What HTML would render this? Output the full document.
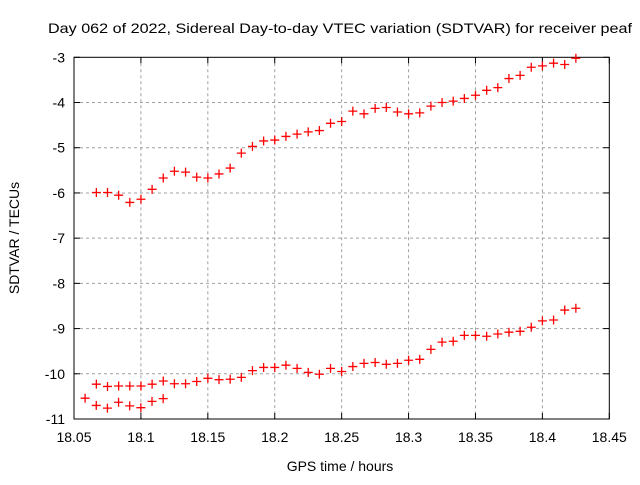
<!DOCTYPE html>
<html><head><meta charset="utf-8"><style>
body{margin:0;background:#fff;}
svg text{font-family:"Liberation Sans",sans-serif;font-size:14px;fill:#000;}
</style></head><body>
<svg id="chart" width="640" height="480" xmlns="http://www.w3.org/2000/svg">
<rect width="640" height="480" fill="#fff"/>
<text x="340" y="33" text-anchor="middle" textLength="584" lengthAdjust="spacingAndGlyphs">Day 062 of 2022, Sidereal Day-to-day VTEC variation (SDTVAR) for receiver peaf</text>
<text x="340" y="471" text-anchor="middle">GPS time / hours</text>
<text transform="translate(19,238) rotate(-90)" text-anchor="middle">SDTVAR / TECUs</text>
<g id="grid"></g><g id="axes"></g><g id="marks"></g>
</svg>
<script>
const xTicks=[18.05,18.1,18.15,18.2,18.25,18.3,18.35,18.4,18.45];
const xTickLabels=["18.05","18.1","18.15","18.2","18.25","18.3","18.35","18.4","18.45"];
const yTicks=[-3,-4,-5,-6,-7,-8,-9,-10,-11];
const yTickLabels=["-3","-4","-5","-6","-7","-8","-9","-10","-11"];
const upperStart=18.0667, step=0.008333;
const upperValues=[-5.99,-5.99,-6.05,-6.21,-6.14,-5.92,-5.67,-5.52,-5.54,-5.65,-5.67,-5.58,-5.45,-5.12,-4.97,-4.85,-4.83,-4.75,-4.70,-4.65,-4.62,-4.46,-4.42,-4.19,-4.25,-4.13,-4.11,-4.21,-4.25,-4.23,-4.08,-4.00,-3.97,-3.91,-3.84,-3.73,-3.67,-3.47,-3.40,-3.22,-3.19,-3.13,-3.16,-3.02];
const lowerValues=[-10.23,-10.28,-10.27,-10.27,-10.27,-10.23,-10.16,-10.22,-10.22,-10.17,-10.10,-10.13,-10.12,-10.08,-9.93,-9.86,-9.86,-9.81,-9.88,-9.97,-10.01,-9.88,-9.95,-9.84,-9.77,-9.75,-9.79,-9.77,-9.70,-9.68,-9.46,-9.30,-9.28,-9.15,-9.15,-9.17,-9.12,-9.08,-9.06,-8.97,-8.83,-8.81,-8.59,-8.55];
const extraStart=18.0583;
const extraValues=[-10.54,-10.70,-10.76,-10.63,-10.71,-10.75,-10.61,-10.55];

const L=74,R=609.3,T=57.3,B=419;
const xs=v=>L+(v-18.05)/(0.4)*(R-L);
const ys=v=>T+(-3-v)/8*(B-T);
const NS="http://www.w3.org/2000/svg";
function mk(tag,attrs,parent){const e=document.createElementNS(NS,tag);for(const k in attrs)e.setAttribute(k,attrs[k]);parent.appendChild(e);return e;}
const grid=document.getElementById('grid'),axes=document.getElementById('axes'),marks=document.getElementById('marks');
xTicks.forEach((t,i)=>{
  const x=xs(t);
  if(i>0&&i<xTicks.length-1){const g=mk('line',{x1:x,x2:x,y1:T,y2:B,stroke:'#a0a0a0','stroke-dasharray':'3,3','stroke-width':1},grid);
  
  }
  mk('line',{x1:x,x2:x,y1:B,y2:B-6,stroke:'#000'},axes);
  mk('line',{x1:x,x2:x,y1:T,y2:T+6,stroke:'#000'},axes);
  const tx=mk('text',{x:x,y:B+23,'text-anchor':'middle'},axes);tx.textContent=xTickLabels[i];
  
  
});
yTicks.forEach((t,i)=>{
  const y=ys(t);
  if(i>0&&i<yTicks.length-1){const g=mk('line',{x1:L,x2:R,y1:y,y2:y,stroke:'#a0a0a0','stroke-dasharray':'3,3','stroke-width':1},grid);
  
  }
  mk('line',{x1:L,x2:L+6,y1:y,y2:y,stroke:'#000'},axes);
  mk('line',{x1:R,x2:R-6,y1:y,y2:y,stroke:'#000'},axes);
  const tx=mk('text',{x:L-9,y:y+5,'text-anchor':'end'},axes);tx.textContent=yTickLabels[i];
  
  
});
const frame=mk('rect',{x:L,y:T,width:R-L,height:B-T,fill:'none',stroke:'#000','stroke-width':1},axes);


function plus(xv,yv){
  const x=xs(xv),y=ys(yv);
  const p=mk('path',{d:`M${x-4.5},${y}H${x+4.5}M${x},${y-4.5}V${y+4.5}`,stroke:'#f00','stroke-width':1.3,fill:'none'},marks);
  
  
}
upperValues.forEach((v,i)=>plus(upperStart+i*step,v));
lowerValues.forEach((v,i)=>plus(upperStart+i*step,v));
extraValues.forEach((v,i)=>plus(extraStart+i*step,v));
</script>
</body></html>
